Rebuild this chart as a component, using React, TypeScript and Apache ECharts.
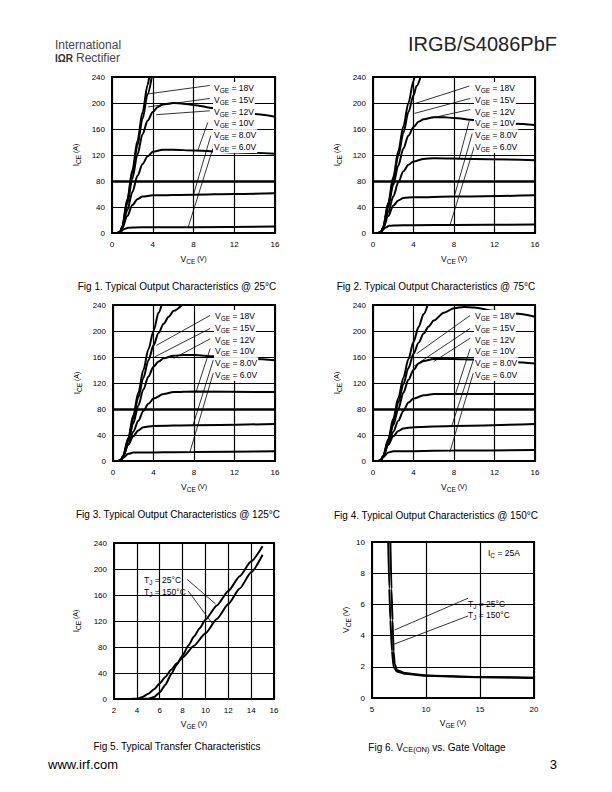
import React, { useEffect, useRef } from "react";
import * as echarts from "echarts";

const FONT = "'Liberation Sans', Arial, Helvetica, sans-serif";

// ---------- Fig 1: Typical Output Characteristics @ 25°C ----------
const f1V18 = [[0, 0], [0.5, 0], [0.8, 2], [1, 10], [1.5, 52], [2, 97], [2.5, 142], [3, 186], [3.5, 228], [3.65, 240]];
const f1V15 = [[0, 0], [0.5, 0], [0.8, 2], [1, 9], [1.5, 49], [2, 92], [2.5, 135], [3, 176], [3.5, 214], [3.9, 240]];
const f1V12 = [[0, 0], [0.5, 0], [0.8, 2], [1, 9], [1.5, 45], [2, 84], [2.5, 121], [3, 152], [3.5, 173], [4, 186], [4.5, 194], [5, 198], [6, 200], [7, 199], [8, 197], [10, 192], [12, 187], [14, 183], [16, 179]];
const f1V10 = [[0, 0], [0.5, 0], [0.8, 2], [1, 8], [1.5, 35], [2, 63], [2.5, 88], [3, 106], [3.5, 118], [4, 125], [5, 128], [6, 128], [8, 127], [12, 124], [16, 122]];
const f1V8 = [[0, 0], [0.5, 0], [0.8, 2], [1, 7], [1.5, 26], [2, 43], [2.5, 52], [3, 56], [4, 58], [8, 59], [12, 60], [16, 61]];
const f1V6 = [[0, 0], [0.5, 0], [0.8, 2], [1.2, 6], [1.6, 8], [2, 8.5], [4, 9], [8, 9], [16, 10]];
const f1Leaders = [
  [[9.6, 227], [3.55, 214]],
  [[9.6, 207], [3.55, 194]],
  [[9.6, 188], [4.35, 182]],
  [[9.4, 170], [8.4, 126]],
  [[9.7, 150], [8.0, 59]],
  [[9.9, 130], [7.5, 10]],
];

// ---------- Fig 2: @ 75°C ----------
const f2V18 = [[0, 0], [0.5, 0], [0.8, 2], [1, 9], [1.5, 46], [2, 86], [2.5, 126], [3, 164], [3.5, 200], [4, 234], [4.1, 240]];
const f2V15 = [[0, 0], [0.5, 0], [0.8, 2], [1, 9], [1.5, 44], [2, 82], [2.5, 119], [3, 154], [3.5, 186], [4, 212], [4.3, 226], [4.7, 240]];
const f2V12 = [[0, 0], [0.5, 0], [0.8, 2], [1, 8], [1.5, 40], [2, 74], [2.5, 104], [3, 130], [3.5, 150], [4, 163], [4.5, 171], [5, 175], [6, 178], [7, 178], [8, 177], [10, 174], [12, 171], [14, 168], [16, 166]];
const f2V10 = [[0, 0], [0.5, 0], [0.8, 2], [1, 8], [1.5, 32], [2, 56], [2.5, 78], [3, 95], [3.5, 105], [4, 110], [5, 114], [6, 115], [10, 114], [16, 112]];
const f2V8 = [[0, 0], [0.5, 0], [0.8, 2], [1, 7], [1.5, 26], [2, 42], [2.5, 50], [3, 54], [4, 55], [8, 56], [16, 58]];
const f2V6 = [[0, 0], [0.5, 0], [0.8, 2], [1.2, 8], [1.6, 11], [2, 11.5], [4, 12], [8, 12.5], [16, 13]];
const f2Leaders = [
  [[9.5, 226], [4.1, 199]],
  [[9.6, 207], [4.1, 184]],
  [[9.6, 190], [5.8, 177]],
  [[9.5, 172], [8.5, 114]],
  [[9.8, 153], [8.0, 55]],
  [[10, 133], [7.6, 12]],
];

// ---------- Fig 3: @ 125°C ----------
const f3V18 = [[0, 0], [0.5, 0], [0.8, 2], [1, 8], [1.5, 35], [2, 70], [2.5, 105], [3, 140], [3.5, 172], [4, 200], [4.5, 228], [4.8, 240]];
const f3V15 = [[0, 0], [0.5, 0], [0.8, 2], [1, 8], [1.5, 33], [2, 65], [2.5, 98], [3, 128], [3.5, 155], [4, 178], [4.5, 197], [5, 211], [5.5, 222], [6, 231], [6.8, 240]];
const f3V12 = [[0, 0], [0.5, 0], [0.8, 2], [1, 7], [1.5, 30], [2, 58], [2.5, 85], [3, 110], [3.5, 130], [4, 145], [4.5, 153], [5, 158], [6, 162], [7, 163], [8, 163], [10, 161], [12, 159], [14, 157], [16, 155]];
const f3V10 = [[0, 0], [0.5, 0], [0.8, 2], [1, 7], [1.5, 25], [2, 45], [2.5, 62], [3, 77], [3.5, 88], [4, 96], [5, 103], [6, 106], [8, 107], [16, 106]];
const f3V8 = [[0, 0], [0.5, 0], [0.8, 2], [1, 8], [1.5, 25], [2, 38], [2.5, 47], [3, 52], [4, 54], [8, 55], [16, 57]];
const f3V6 = [[0, 0], [0.5, 0], [0.8, 2], [1, 5], [1.5, 11], [2, 13], [8, 14], [16, 15]];
const f3Leaders = [
  [[9.6, 224], [4.3, 178]],
  [[9.6, 204], [4.1, 160]],
  [[9.6, 188], [6.0, 158]],
  [[9.6, 173], [8.2, 106]],
  [[9.9, 155], [7.9, 55]],
  [[9.9, 135], [7.6, 14]],
];

// ---------- Fig 4: @ 150°C ----------
const f4V18 = [[0, 0], [0.5, 0], [0.8, 2], [1, 8], [1.5, 33], [2, 65], [2.5, 97], [3, 128], [3.5, 157], [4, 183], [4.5, 206], [5, 226], [5.4, 240]];
const f4V15 = [[0, 0], [0.5, 0], [0.8, 2], [1, 7], [1.5, 30], [2, 60], [2.5, 90], [3, 118], [3.5, 143], [4, 165], [4.5, 182], [5, 196], [5.5, 207], [6, 216], [7, 228], [8, 235], [9, 237], [10, 236], [12, 231], [14, 227], [16, 222]];
const f4V12 = [[0, 0], [0.5, 0], [0.8, 2], [1, 7], [1.5, 30], [2, 55], [2.5, 80], [3, 105], [3.5, 125], [4, 140], [4.5, 150], [5, 154], [6, 157], [8, 157], [10, 156], [12, 154], [14, 152], [16, 150]];
const f4V10 = [[0, 0], [0.5, 0], [0.8, 2], [1, 7], [1.5, 25], [2, 45], [2.5, 62], [3, 77], [3.5, 90], [4, 96], [5, 101], [6, 103], [16, 103]];
const f4V8 = [[0, 0], [0.5, 0], [0.8, 2], [1, 8], [1.5, 25], [2, 38], [2.5, 46], [3, 50], [4, 52], [8, 54], [16, 57]];
const f4V6 = [[0, 0], [0.5, 0], [0.8, 2], [1, 6], [1.5, 13], [2, 15], [8, 16], [16, 17]];
const f4Leaders = [
  [[9.6, 224], [4.3, 165]],
  [[9.6, 204], [3.95, 145]],
  [[9.6, 189], [6.0, 153]],
  [[9.6, 173], [8.1, 101]],
  [[9.9, 155], [7.8, 55]],
  [[9.9, 135], [7.6, 14]],
];

// ---------- Fig 5: Typical Transfer Characteristics ----------
const f5T25 = [[2, 0], [4.5, 0], [5, 0.5], [5.5, 3], [6, 10], [6.5, 22], [7, 38], [7.5, 53], [8, 67], [8.5, 82], [9, 96], [9.5, 109], [10, 122], [11, 144], [12, 166], [13, 189], [14, 212], [15, 235]];
const f5T150 = [[2, 0], [3.5, 0], [4, 0.5], [4.5, 3], [5, 8], [5.5, 15], [6, 24], [6.5, 34], [7, 45], [7.5, 55], [8, 64], [9, 82], [10, 101], [11, 123], [12, 146], [13, 170], [14, 195], [15, 222]];
const f5Leaders = [
  [[8.4, 184], [10.9, 146]],
  [[8.5, 166], [10.6, 116]],
];

// ---------- Fig 6: VCE(ON) vs. Gate Voltage ----------
const f6T25 = [[6.7, 10], [6.8, 7], [6.9, 5], [7.0, 3], [7.1, 2.2], [7.3, 1.8], [8, 1.6], [10, 1.45], [15, 1.35], [20, 1.3]];
const f6T150 = [[6.5, 10], [6.6, 7], [6.7, 5], [6.85, 3], [7.0, 2.0], [7.3, 1.7], [8, 1.55], [10, 1.42], [15, 1.33], [20, 1.28]];
const f6Leaders = [
  [[13.9, 6.4], [7.1, 4.36]],
  [[13.9, 5.26], [6.85, 3.4]],
];

const vgeLabels = ["18V", "15V", "12V", "10V", "8.0V", "6.0V"];
const outputXTicks = { min: 0, max: 16, interval: 4 };
const outputYTicks = { min: 0, max: 240, interval: 40 };
const transferXTicks = { min: 2, max: 16, interval: 2 };
const vceonXTicks = { min: 5, max: 20, interval: 5 };
const vceonYTicks = { min: 0, max: 10, interval: 2 };

const GRIDS = [
  { left: 112, top: 77, width: 163, height: 156 },
  { left: 373, top: 77, width: 162, height: 156 },
  { left: 113, top: 305, width: 162, height: 156 },
  { left: 373, top: 305, width: 162, height: 156 },
  { left: 114, top: 543, width: 160, height: 156 },
  { left: 372, top: 542, width: 162, height: 156 },
];

const RICH = {
  n: { fontSize: 8.5, fontFamily: FONT, color: "#000" },
  s: { fontSize: 6.5, fontFamily: FONT, color: "#000", padding: [5, 0, 0, 0] },
  p: { fontSize: 7, fontFamily: FONT, color: "#000", padding: [0, 0, 2, 0] },
  c: { fontSize: 10, fontFamily: FONT, color: "#000" },
  cs: { fontSize: 7.5, fontFamily: FONT, color: "#000", padding: [5, 0, 0, 0] },
};

function makeXAxis(gi: number, t: any, name: string, gap: number) {
  return {
    type: "value", gridIndex: gi, min: t.min, max: t.max, interval: t.interval,
    name, nameLocation: "middle", nameGap: gap,
    nameTextStyle: { rich: RICH, color: "#000" },
    axisLine: { show: false }, axisTick: { show: false },
    axisLabel: { color: "#000", fontSize: 8, fontFamily: FONT, margin: 7 },
    splitLine: { show: true, lineStyle: { color: "#000", width: 1.2 } },
  };
}
function makeYAxis(gi: number, t: any, name: string, gap: number) {
  return {
    type: "value", gridIndex: gi, min: t.min, max: t.max, interval: t.interval,
    name, nameLocation: "middle", nameGap: gap, nameRotate: 90,
    nameTextStyle: { rich: RICH, color: "#000" },
    axisLine: { show: false }, axisTick: { show: false },
    axisLabel: { color: "#000", fontSize: 8, fontFamily: FONT, margin: 7 },
    splitLine: { show: true, lineStyle: { color: "#000", width: 1.2 } },
  };
}
function curve(data: number[][], gi: number, extra: any = {}) {
  return {
    type: "line", xAxisIndex: gi, yAxisIndex: gi, data, showSymbol: false, symbol: "none",
    smooth: 0.3, smoothMonotone: "x", silent: true, z: 3,
    lineStyle: { color: "#000", width: 2 }, ...extra,
  };
}
function leader(data: number[][], gi: number) {
  return {
    type: "line", xAxisIndex: gi, yAxisIndex: gi, data, showSymbol: false, symbol: "none",
    silent: true, z: 2, lineStyle: { color: "#000", width: 0.8 },
  };
}
function txt(x: number, y: number, text: string, o: any = {}) {
  return {
    type: "text", x, y, z: 100, silent: true,
    style: {
      text, fill: o.fill || "#000", fontSize: o.fontSize || 9, fontFamily: FONT,
      fontWeight: o.fontWeight || "normal",
      align: o.align || "left", verticalAlign: "middle",
      textAlign: o.align || "left", textVerticalAlign: "middle",
      rich: RICH, backgroundColor: o.bg, padding: o.bg ? [0, 1] : 0,
    },
  };
}

export default function App() {
  const ref = useRef<HTMLDivElement>(null);
  useEffect(() => {
    if (!ref.current) return;
    const chart = echarts.init(ref.current, null, { renderer: "svg" });
    const outputFigs = [
      [f1V18, f1V15, f1V12, f1V10, f1V8, f1V6, f1Leaders],
      [f2V18, f2V15, f2V12, f2V10, f2V8, f2V6, f2Leaders],
      [f3V18, f3V15, f3V12, f3V10, f3V8, f3V6, f3Leaders],
      [f4V18, f4V15, f4V12, f4V10, f4V8, f4V6, f4Leaders],
    ] as any[];
    const series: any[] = [];
    const graphics: any[] = [];
    outputFigs.forEach((fig, gi) => {
      for (let k = 0; k < 6; k++) {
        series.push(curve(fig[k], gi, k === 0 ? {
          markLine: {
            silent: true, symbol: "none", label: { show: false },
            lineStyle: { color: "#000", width: 2.6, type: "solid" },
            data: [{ yAxis: 80 }],
          },
        } : {}));
      }
      fig[6].forEach((l: number[][]) => series.push(leader(l, gi)));
      const g = GRIDS[gi];
      vgeLabels.forEach((lab, i) => {
        graphics.push(txt(g.left + 101, g.top + 11 + i * 11.8, `{n|V}{s|GE}{n| = ${lab}}`, { bg: "#fff" }));
      });
    });
    series.push(curve(f5T25, 4, { smooth: 0.2 }));
    series.push(curve(f5T150, 4, { smooth: 0.2 }));
    f5Leaders.forEach((l) => series.push(leader(l, 4)));
    series.push(curve(f6T25, 5, { smooth: 0.15 }));
    series.push(curve(f6T150, 5, { smooth: 0.15 }));
    f6Leaders.forEach((l) => series.push(leader(l, 5)));

    const ice = "{n|I}{s|CE}{p| (A)}";
    const vce = "{n|V}{s|CE}{p| (V)}";
    const vge = "{n|V}{s|GE}{p| (V)}";

    graphics.push(
      txt(144, 580, "{n|T}{s|J}{n| = 25°C}"),
      txt(144, 592, "{n|T}{s|J}{n| = 150°C}"),
      txt(488, 553, "{n|I}{s|C}{n| = 25A}"),
      txt(468, 604, "{n|T}{s|J}{n| = 25°C}"),
      txt(468, 615, "{n|T}{s|J}{n| = 150°C}"),
      // header
      txt(55, 45, "International", { fontSize: 12, fill: "#444" }),
      txt(55, 58, "IΩR", { fontSize: 10, fontWeight: "bold", fill: "#333" }),
      txt(76, 58, "Rectifier", { fontSize: 12, fill: "#444" }),
      txt(557, 44, "IRGB/S4086PbF", { fontSize: 20, fill: "#222", align: "right" }),
      // captions
      txt(177, 286, "{c|Fig 1. Typical Output Characteristics @ 25°C}", { align: "center" }),
      txt(436, 286, "{c|Fig 2. Typical Output Characteristics @ 75°C}", { align: "center" }),
      txt(178, 514, "{c|Fig 3. Typical Output Characteristics @ 125°C}", { align: "center" }),
      txt(436, 515, "{c|Fig 4. Typical Output Characteristics @ 150°C}", { align: "center" }),
      txt(177, 746, "{c|Fig 5. Typical Transfer Characteristics}", { align: "center" }),
      txt(437, 747, "{c|Fig 6. V}{cs|CE(ON)}{c| vs. Gate Voltage}", { align: "center" }),
      // footer
      txt(48, 764, "www.irf.com", { fontSize: 13 }),
      txt(557, 764, "3", { fontSize: 13, align: "right" }),
    );

    chart.setOption({
      animation: false,
      backgroundColor: "#fff",
      grid: GRIDS.map((g) => ({ ...g, show: true, borderColor: "#000", borderWidth: 2, backgroundColor: "transparent" })),
      xAxis: [
        makeXAxis(0, outputXTicks, vce, 20),
        makeXAxis(1, outputXTicks, vce, 20),
        makeXAxis(2, outputXTicks, vce, 20),
        makeXAxis(3, outputXTicks, vce, 20),
        makeXAxis(4, transferXTicks, vge, 19),
        makeXAxis(5, vceonXTicks, vge, 19),
      ],
      yAxis: [
        makeYAxis(0, outputYTicks, ice, 30),
        makeYAxis(1, outputYTicks, ice, 30),
        makeYAxis(2, outputYTicks, ice, 30),
        makeYAxis(3, outputYTicks, ice, 30),
        makeYAxis(4, outputYTicks, ice, 32),
        makeYAxis(5, vceonYTicks, vce, 20),
      ],
      series,
      graphic: graphics,
    });
    return () => chart.dispose();
  }, []);
  return (
    <div
      ref={ref}
      style={{ position: "absolute", left: 0, top: 0, width: 612, height: 792, background: "#fff" }}
    />
  );
}
